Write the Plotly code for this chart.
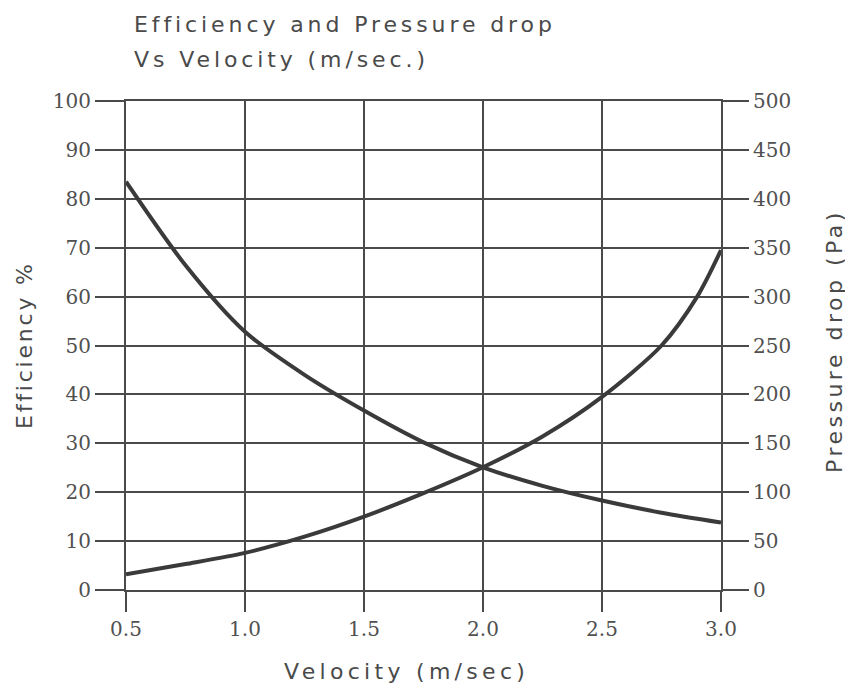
import plotly.graph_objects as go

velocity_eff = [0.5, 0.75, 1.0, 1.25, 1.5, 1.75, 2.0, 2.25, 2.5, 2.75, 3.0]
efficiency = [83.5, 66.4, 52.8, 44.0, 36.7, 30.2, 25.1, 21.3, 18.3, 15.8, 13.8]

velocity_pd = [0.5, 0.75, 1.0, 1.25, 1.5, 1.75, 2.0, 2.25, 2.5, 2.75, 2.9, 3.0]
pressure_drop = [16, 26.5, 38, 54.5, 75, 99, 125.5, 157, 197.5, 250, 300, 347.5]

x_ticks = [0.5, 1.0, 1.5, 2.0, 2.5, 3.0]
x_tick_text = ["0.5", "1.0", "1.5", "2.0", "2.5", "3.0"]
eff_ticks = list(range(0, 101, 10))
pd_ticks = list(range(0, 501, 50))

title_line1 = "Efficiency and Pressure drop"
title_line2 = "Vs Velocity (m/sec.)"
x_title = "Velocity (m/sec)"
y_title = "Efficiency %"
y2_title = "Pressure drop (Pa)"

ink = "#3a3a3a"
grid = "#4a4a4a"
label_font = dict(family="DejaVu Serif", size=20, color="#505050")
text_font = dict(family="DejaVu Sans", size=22, color="#4a4a4a")


def spaced(s, px):
    return '<span style="letter-spacing:%spx">%s</span>' % (px, s)


# page is drawn with an 8px body margin; plot area in page px: x 126..721, y 101..590
W, H = 845, 683
L, T = 118, 93
PW, PH = 595, 489
R = W - L - PW
B = H - T - PH


def px_x(page_x):
    return (page_x - 8 - L) / PW


def px_y(page_y):
    return 1 - (page_y - 8 - T) / PH


fig = go.Figure()
fig.add_trace(go.Scatter(x=velocity_eff, y=efficiency, mode="lines",
                         line=dict(color=ink, width=4, shape="spline", smoothing=0.8),
                         showlegend=False, yaxis="y"))
fig.add_trace(go.Scatter(x=velocity_pd, y=pressure_drop, mode="lines",
                         line=dict(color=ink, width=4, shape="spline", smoothing=0.8),
                         showlegend=False, yaxis="y2"))

fig.update_layout(
    width=W, height=H,
    margin=dict(l=L, r=R, t=T, b=B),
    paper_bgcolor="white", plot_bgcolor="white",
    showlegend=False,
    xaxis=dict(range=[0.5, 3.0], tickvals=x_ticks, ticktext=x_tick_text,
               showgrid=True, gridcolor=grid, gridwidth=1.5,
               showline=True, linecolor=grid, linewidth=1.5, mirror=True,
               ticks="outside", ticklen=20, tickwidth=1.5, tickcolor=grid,
               tickfont=label_font, zeroline=False),
    yaxis=dict(range=[0, 100], tickvals=eff_ticks,
               showgrid=True, gridcolor=grid, gridwidth=2,
               showline=True, linecolor=grid, linewidth=2, mirror=True,
               ticks="outside", ticklen=29, tickwidth=2, tickcolor=grid,
               tickfont=label_font, zeroline=False),
    yaxis2=dict(range=[0, 500], tickvals=pd_ticks, overlaying="y", side="right",
                showgrid=False, showline=False,
                ticks="outside", ticklen=27, tickwidth=2, tickcolor=grid,
                tickfont=label_font, zeroline=False),
    annotations=[
        dict(text=spaced(title_line1, 3.9), xref="paper", yref="paper",
             x=px_x(132), y=px_y(24), xanchor="left", yanchor="middle",
             showarrow=False, font=text_font),
        dict(text=spaced(title_line2, 3.9), xref="paper", yref="paper",
             x=px_x(132), y=px_y(59), xanchor="left", yanchor="middle",
             showarrow=False, font=text_font),
        dict(text=spaced(x_title, 4.3), xref="paper", yref="paper",
             x=px_x(406), y=px_y(671), xanchor="center", yanchor="middle",
             showarrow=False, font=text_font),
        dict(text=spaced(y_title, 2.8), xref="paper", yref="paper",
             x=px_x(24), y=px_y(345), textangle=-90,
             xanchor="center", yanchor="middle",
             showarrow=False, font=text_font),
        dict(text=spaced(y2_title, 3.5), xref="paper", yref="paper",
             x=px_x(834), y=px_y(341), textangle=-90,
             xanchor="center", yanchor="middle",
             showarrow=False, font=text_font),
    ],
)

fig.write_html("out.html")
